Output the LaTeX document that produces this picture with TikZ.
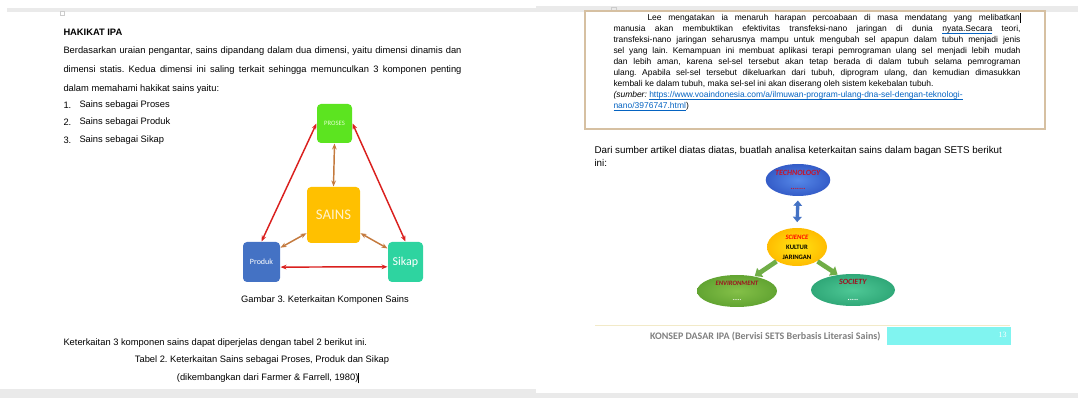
\documentclass[tikz,border=0pt]{standalone}
\usepackage{fontspec}
\setmainfont{Liberation Sans}
\newfontfamily\carlito{Carlito}
\newfontfamily\serifhal{Liberation Serif}
\usetikzlibrary{arrows.meta,shapes.geometric}

\definecolor{abu}{RGB}{234,234,234}
\definecolor{tepi}{RGB}{214,192,162}
\definecolor{tautan}{RGB}{5,99,193}
\definecolor{hijauproses}{RGB}{92,228,32}
\definecolor{kuningsains}{RGB}{255,192,0}
\definecolor{biruproduk}{RGB}{68,114,196}
\definecolor{tealsikap}{RGB}{46,212,160}
\definecolor{merah}{RGB}{218,32,30}
\definecolor{coklat}{RGB}{196,122,62}
\definecolor{hijaupanah}{RGB}{112,173,71}
\definecolor{judulsets}{RGB}{200,20,40}
\definecolor{kaki}{RGB}{128,128,128}
\definecolor{sian}{RGB}{128,244,240}

\tikzset{every picture/.style={line width=0.75pt}}
\tikzset{
  teks/.style={inner sep=0pt, font=\fontsize{7}{14.25}\selectfont},
  teksbox/.style={inner sep=0pt, font=\fontsize{6.35}{8.2}\selectfont},
  kotak/.style={rounded corners=3pt, inner sep=0pt, text=white, font=\carlito},
  panahmerah/.style={draw=merah, line width=1.1pt, {Stealth[length=4.5pt,width=3.5pt]}-{Stealth[length=4.5pt,width=3.5pt]}},
  panahcoklat/.style={draw=coklat, line width=1.1pt, {Stealth[length=4.5pt,width=3.5pt]}-{Stealth[length=4.5pt,width=3.5pt]}},
  elips/.style={ellipse, inner sep=0pt, align=center, font=\carlito\bfseries\fontsize{5}{11}\selectfont},
  panahhijau/.style={draw=hijaupanah, line width=3.5pt, -{Triangle[length=5pt,width=8pt]}},
}

\begin{document}
\frenchspacing
\begin{tikzpicture}[x=0.75pt,y=0.75pt,yscale=-1,xscale=1]
\useasboundingbox (0,0) rectangle (1078,398);

%Shapes: page edges
\fill [color=abu] (7,8) rectangle (536,12);
\fill [color=abu] (536,6) rectangle (1078,12);
\fill [color=abu] (0,389) rectangle (536,398);
\fill [color=abu] (536,393) rectangle (1078,398);
\draw [color=black!20, line width=0.5pt] (60,11) rectangle (64,15);
\draw [color=black!20, line width=0.5pt] (611,7) rectangle (616,11);

%Shapes: article frame
\draw [color=tepi, line width=1pt] (585,11) rectangle (1045,129);

% Text Node
\draw (63,32) node [anchor=west, teks, font=\fontsize{7}{9}\selectfont\bfseries] (judul) {HAKIKAT IPA};
% Text Node
\draw (63,46.5) node [anchor=north west, teks, text width=298.5pt, align=justify] (paragraf) {Berdasarkan uraian pengantar, sains dipandang dalam dua dimensi, yaitu dimensi dinamis dan\linebreak dimensi statis. Kedua dimensi ini saling terkait sehingga memunculkan 3 komponen penting\linebreak dalam memahami hakikat sains yaitu:};
% Text Node
\draw (63,105) node [anchor=west, teks] (no1) {1.};
\draw (79,105) node [anchor=west, teks] (item1) {Sains sebagai Proses};
\draw (63,122.5) node [anchor=west, teks] (no2) {2.};
\draw (79,122.5) node [anchor=west, teks] (item2) {Sains sebagai Produk};
\draw (63,140) node [anchor=west, teks] (no3) {3.};
\draw (79,140) node [anchor=west, teks] (item3) {Sains sebagai Sikap};

%Rounded Rect
\draw (334.5,123.5) node [kotak, fill=hijauproses, minimum width=26.25pt, minimum height=29.25pt, text={rgb,255:red,225;green,255;blue,205}, font=\carlito\fontsize{5}{6}\selectfont] (proses) {PROSES};
\draw (333.5,215) node [kotak, fill=kuningsains, minimum width=39.75pt, minimum height=42pt, text={rgb,255:red,255;green,242;blue,204}, font=\carlito\fontsize{11}{12}\selectfont] (sains) {SAINS};
\draw (261.5,262) node [kotak, fill=biruproduk, minimum width=27.75pt, minimum height=30pt, font=\carlito\fontsize{6}{7}\selectfont] (produk) {Produk};
\draw (405.5,262) node [kotak, fill=tealsikap, minimum width=26.25pt, minimum height=30pt, font=\carlito\fontsize{9}{10}\selectfont] (sikap) {Sikap};

%Straight Lines
\draw [panahmerah] (proses.west) -- (produk.north);
\draw [panahmerah] (proses.east) -- (sikap.north);
\draw [panahmerah] (produk.-15) -- (sikap.195);
\draw [panahcoklat] (proses.south) -- (sains.north);
\draw [panahcoklat] (sains.214) -- (produk.37);
\draw [panahcoklat] (sains.-34) -- (sikap.143);

% Text Node
\draw (325,300) node [teks] (gambar) {Gambar 3. Keterkaitan Komponen Sains};
% Text Node
\draw (63,343) node [anchor=west, teks] (kalimat) {Keterkaitan 3 komponen sains dapat diperjelas dengan tabel 2 berikut ini.};
\draw (262,360) node [teks] (tabel) {Tabel 2. Keterkaitan Sains sebagai Proses, Produk dan Sikap};
\draw (268,378) node [teks] (sumbertabel) {(dikembangkan dari Farmer \& Farrell, 1980)\rule[-1.8pt]{0.5pt}{8pt}};

% Text Node
\draw (613,13) node [anchor=north west, teksbox, text width=305.25pt, align=justify] (artikel) {\hspace*{25.5pt}Lee mengatakan ia menaruh harapan percoabaan di masa mendatang yang melibatkan\rule[-1.5pt]{0.5pt}{7pt}\linebreak manusia akan membuktikan efektivitas transfeksi-nano jaringan di dunia \textcolor{tautan}{\underline{\smash{\textcolor{black}{nyata.Secara}}}} teori,\linebreak transfeksi-nano jaringan seharusnya mampu untuk mengubah sel apapun dalam tubuh menjadi jenis\linebreak sel yang lain. Kemampuan ini membuat aplikasi terapi pemrograman ulang sel menjadi lebih mudah\linebreak dan lebih aman, karena sel-sel tersebut akan tetap berada di dalam tubuh selama pemrograman\linebreak ulang. Apabila sel-sel tersebut dikeluarkan dari tubuh, diprogram ulang, dan kemudian dimasukkan\linebreak kembali ke dalam tubuh, maka sel-sel ini akan diserang oleh sistem kekebalan tubuh.\\
\textit{(sumber:} \textcolor{tautan}{\underline{\smash{https://www.voaindonesia.com/a/ilmuwan-program-ulang-dna-sel-dengan-teknologi-}}}\\
\textcolor{tautan}{\underline{\smash{nano/3976747.html}}})};

% Text Node
\draw (594,151) node [anchor=west, teks, font=\fontsize{7.35}{9}\selectfont] (tugas) {Dari sumber artikel diatas diatas, buatlah analisa keterkaitan sains dalam bagan SETS berikut};
\draw (594,163) node [anchor=west, teks, font=\fontsize{7.35}{9}\selectfont] (tugas2) {ini:};

%Ellipses
\draw (798,180) node [elips, shade, inner color={rgb,255:red,86;green,136;blue,232}, outer color={rgb,255:red,52;green,92;blue,200}, minimum width=48pt, minimum height=24pt, text=judulsets, font=\carlito\bfseries\fontsize{6}{11}\selectfont] (technology) {\textit{TECHNOLOGY}\\.......};
\draw (797,247) node [elips, shade, inner color={rgb,255:red,255;green,228;blue,20}, outer color={rgb,255:red,255;green,188;blue,0}, minimum width=45pt, minimum height=28.5pt, font=\carlito\bfseries\fontsize{5}{7.6}\selectfont] (science) {\textcolor{red}{\textit{SCIENCE}}\\KULTUR\\JARINGAN};
\draw (737,291) node [elips, shade, inner color={rgb,255:red,132;green,192;blue,72}, outer color={rgb,255:red,98;green,164;blue,50}, minimum width=60pt, minimum height=24pt] (environment) {\textcolor{judulsets!80!black}{\textit{ENVIRONMENT}}\\\textcolor{white}{.....}};
\draw (853,290) node [elips, shade, inner color={rgb,255:red,78;green,200;blue,150}, outer color={rgb,255:red,48;green,168;blue,120}, minimum width=63pt, minimum height=24pt, font=\carlito\bfseries\fontsize{6}{12}\selectfont] (society) {\textcolor{judulsets!80!black}{\textit{SOCIETY}}\\\textcolor{white}{.....}};

%Straight Lines
\draw [draw=biruproduk, line width=2.5pt, shorten <=3pt, shorten >=4pt, {Triangle[length=4pt,width=6.5pt]}-{Triangle[length=4pt,width=6.5pt]}] (technology.south) -- (science.north);
\draw [panahhijau] (science.215) -- (environment.40);
\draw [panahhijau] (science.-35) -- (society.135);

%Footer
\draw [color={rgb,255:red,242;green,234;blue,200}, line width=0.75pt] (595,326) -- (1010,326);
\fill [color=sian] (887,327) rectangle (1011,345);
\draw (881,337) node [anchor=east, inner sep=0pt, text=kaki, font=\carlito\bfseries\fontsize{7.5}{9}\selectfont] (kaki) {KONSEP DASAR IPA (Bervisi SETS Berbasis Literasi Sains)};
\draw (1007,335) node [anchor=east, inner sep=0pt, text=white, font=\serifhal\fontsize{6}{7}\selectfont] (halaman) {13};

\end{tikzpicture}
\end{document}
